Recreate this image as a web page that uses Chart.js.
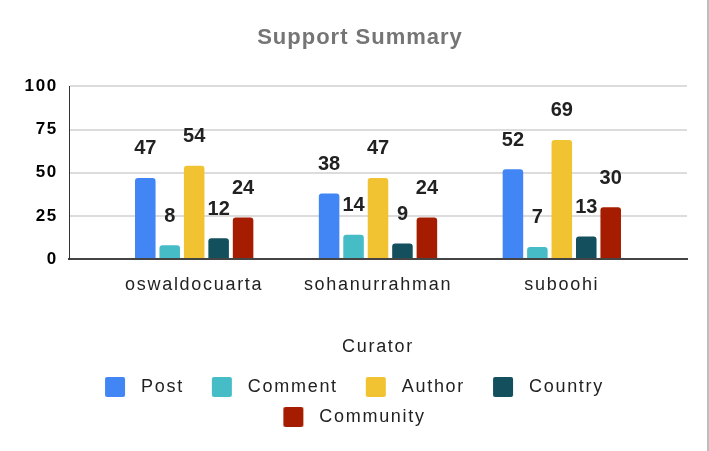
<!DOCTYPE html>
<html>
<head>
<meta charset="utf-8">
<script src="https://cdn.jsdelivr.net/npm/chart.js@4.4.1/dist/chart.umd.min.js"></script>
<style>
  html, body { margin: 0; padding: 0; background: #fff; }
  #wrap { width: 707px; height: 451px; border-right: 2px solid #bdbdbd; }
  canvas { display: block; }
</style>
</head>
<body>
<div id="wrap"><canvas id="c" width="707" height="451"></canvas></div>
<script>
const categories = ['oswaldocuarta', 'sohanurrahman', 'suboohi'];
const seriesNames = ['Post', 'Comment', 'Author', 'Country', 'Community'];
const post = [47, 38, 52];
const comment = [8, 14, 7];
const author = [54, 47, 69];
const country = [12, 9, 13];
const community = [24, 24, 30];
const yTicks = [0, 25, 50, 75, 100];
const colors = ['#4285f4', '#46bdc6', '#f1c232', '#134f5c', '#a61c00'];

const seriesValues = [post, comment, author, country, community];
const FONT = "'Liberation Sans', Arial, sans-serif";
const SPACING = '1.7px';

function legendSwatch(color) {
  const c = document.createElement('canvas');
  c.width = 43; c.height = 20;
  const g = c.getContext('2d');
  g.fillStyle = color;
  g.beginPath();
  if (g.roundRect) g.roundRect(16, 0, 20, 20, 2); else g.rect(16, 0, 20, 20);
  g.fill();
  return c;
}
const swatches = colors.map(legendSwatch);

function wrapDraw(chart, box, spacing) {
  if (!box || box._wrapped) return;
  const orig = box.draw.bind(box);
  box.draw = function (...args) {
    const ctx = chart.ctx;
    ctx.save();
    ctx.letterSpacing = spacing;
    orig(...args);
    ctx.restore();
  };
  box._wrapped = true;
}

const spacingPlugin = {
  id: 'spacing',
  beforeLayout(chart) { chart.ctx.letterSpacing = SPACING; },
  afterLayout(chart) {
    if (chart.titleBlock) chart.titleBlock.left += 33;
    if (chart.legend) chart.legend.left += 6;
    wrapDraw(chart, chart.titleBlock, '1px');
    wrapDraw(chart, chart.scales.y, '0.5px');
  },
  beforeDraw(chart) { chart.ctx.letterSpacing = SPACING; }
};

const valueLabels = {
  id: 'valueLabels',
  afterDatasetsDraw(chart) {
    const ctx = chart.ctx;
    ctx.save();
    ctx.letterSpacing = '0px';
    ctx.font = "bold 20px " + FONT;
    ctx.fillStyle = '#212121';
    ctx.textAlign = 'center';
    ctx.textBaseline = 'middle';
    chart.data.datasets.forEach((ds, di) => {
      const meta = chart.getDatasetMeta(di);
      meta.data.forEach((el, i) => {
        ctx.fillText(String(seriesValues[di][i]), el.x, el.y - 29);
      });
    });
    ctx.restore();
  }
};

new Chart(document.getElementById('c'), {
  type: 'bar',
  data: {
    datasets: seriesNames.map((name, di) => ({
      label: name,
      data: seriesValues[di].map((v, i) => ({ x: i, y: v })),
      backgroundColor: colors[di],
      borderRadius: { topLeft: 3, topRight: 3, bottomLeft: 0, bottomRight: 0 },
      borderSkipped: 'start',
      categoryPercentage: 0.665,
      barPercentage: 0.84
    }))
  },
  options: {
    responsive: false,
    animation: false,
    layout: { padding: { left: 0, right: 20, top: 0, bottom: 15 } },
    scales: {
      x: {
        type: 'linear',
        offset: false,
        min: -0.681,
        max: 2.681,
        afterBuildTicks(scale) { scale.ticks = categories.map((c, i) => ({ value: i })); },
        ticks: {
          callback: (v) => categories[v],
          font: { family: FONT, size: 18 },
          color: '#222222',
          padding: 15,
          maxRotation: 0,
          autoSkip: false
        },
        grid: { display: false, drawTicks: false, offset: false },
        border: { display: true, color: '#444444', width: 2 },
        title: {
          display: true,
          text: 'Curator',
          font: { family: FONT, size: 18 },
          color: '#222222',
          padding: { top: 25.6, bottom: 8.2 }
        }
      },
      y: {
        min: 0,
        max: 100,
        afterBuildTicks(scale) { scale.ticks = yTicks.map(v => ({ value: v })); },
        afterFit(scale) { scale.width = 69; },
        ticks: {
          font: { family: FONT, size: 17, weight: 'bold' },
          color: '#000000',
          padding: 11
        },
        grid: { color: '#dcdcdc', lineWidth: 2, drawTicks: false },
        border: { display: true, color: '#333333', width: 1 }
      }
    },
    plugins: {
      title: {
        display: true,
        text: 'Support Summary',
        font: { family: FONT, size: 22, weight: 'bold' },
        color: '#757575',
        padding: { top: 25, bottom: 35 }
      },
      legend: {
        position: 'bottom',
        labels: {
          font: { family: FONT, size: 18 },
          color: '#222222',
          usePointStyle: true,
          pointStyleWidth: 43,
          padding: 12,
          generateLabels(chart) {
            const items = Chart.defaults.plugins.legend.labels.generateLabels(chart);
            items.forEach((it, i) => { it.pointStyle = swatches[i]; });
            return items;
          }
        }
      },
      tooltip: { enabled: false }
    }
  },
  plugins: [spacingPlugin, valueLabels]
});
</script>
</body>
</html>
